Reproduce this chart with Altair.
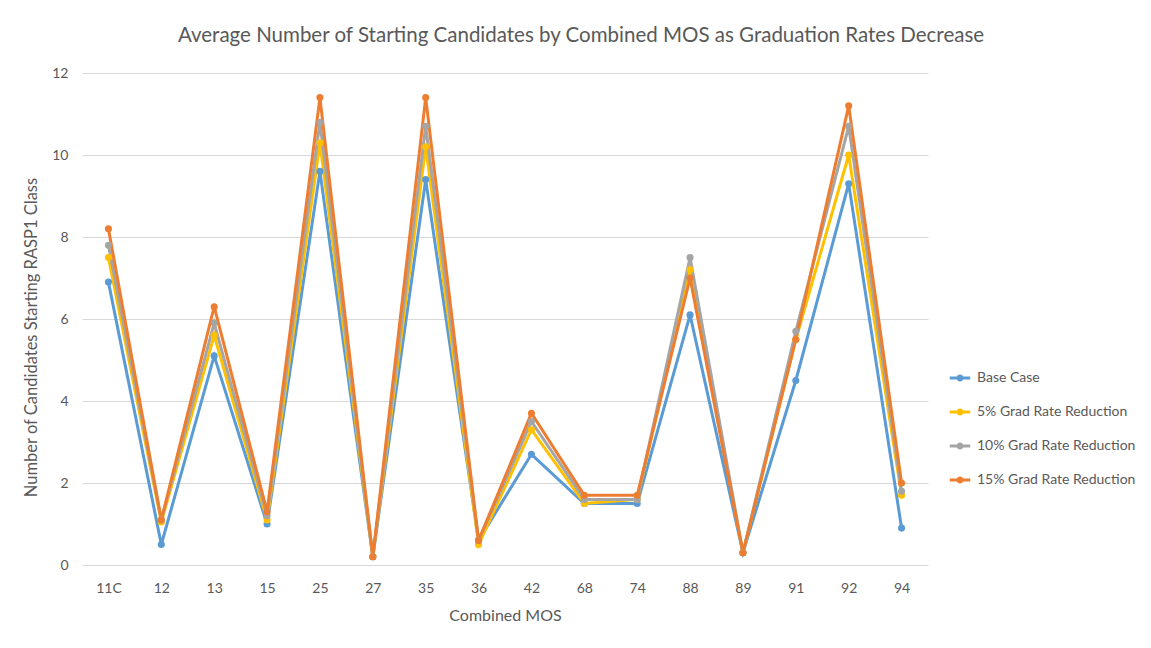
import altair as alt
import pandas as pd

categories = ["11C", "12", "13", "15", "25", "27", "35", "36", "42", "68", "74", "88", "89", "91", "92", "94"]
series_names = ["Base Case", "5% Grad Rate Reduction", "10% Grad Rate Reduction", "15% Grad Rate Reduction"]
base_case = [6.9, 0.5, 5.1, 1.0, 9.6, 0.2, 9.4, 0.6, 2.7, 1.5, 1.5, 6.1, 0.3, 4.5, 9.3, 0.9]
red_5 = [7.5, 1.05, 5.6, 1.1, 10.3, 0.2, 10.2, 0.5, 3.3, 1.5, 1.6, 7.2, 0.3, 5.5, 10.0, 1.7]
red_10 = [7.8, 1.1, 5.9, 1.2, 10.8, 0.2, 10.7, 0.6, 3.5, 1.6, 1.6, 7.5, 0.3, 5.7, 10.7, 1.8]
red_15 = [8.2, 1.1, 6.3, 1.3, 11.4, 0.2, 11.4, 0.6, 3.7, 1.7, 1.7, 7.0, 0.3, 5.5, 11.2, 2.0]
colors = ["#5B9BD5", "#FFC000", "#A5A5A5", "#ED7D31"]

rows = []
for si, (name, vals) in enumerate(zip(series_names, [base_case, red_5, red_10, red_15])):
    for c, v in zip(categories, vals):
        rows.append({"MOS": c, "Series": name, "Value": v, "order": si})
df = pd.DataFrame(rows)

FONT = "Lato"
GRAY = "#595959"

x = alt.X("MOS:N", sort=categories, title="Combined MOS",
          scale=alt.Scale(type="point", padding=0.5),
          axis=alt.Axis(labelAngle=0, ticks=False, domain=False, grid=False,
                        labelPadding=16, titlePadding=12, labelFontSize=14,
                        titleFontSize=16, labelColor=GRAY, titleColor=GRAY,
                        labelFont=FONT, titleFont=FONT, titleFontWeight="normal"))
y = alt.Y("Value:Q", title="Number of Candidates Starting RASP1 Class",
          scale=alt.Scale(domain=[0, 12]),
          axis=alt.Axis(values=[0, 2, 4, 6, 8, 10, 12], ticks=False, domain=False,
                        gridColor="#D9D9D9", gridWidth=1.2, labelPadding=14,
                        titlePadding=12, titleY=264, labelFontSize=14, titleFontSize=16.5,
                        labelColor=GRAY, titleColor=GRAY, labelFont=FONT,
                        titleFont=FONT, titleFontWeight="normal"))
color = alt.Color("Series:N", sort=series_names,
                  scale=alt.Scale(domain=series_names, range=colors),
                  legend=alt.Legend(title=None, orient="none", legendX=866, legendY=293,
                                    labelFont=FONT, labelFontSize=14, labelColor=GRAY,
                                    symbolType="M-1,0L1,0M-0.2,0a0.2,0.2 0 1,0 0.4,0a0.2,0.2 0 1,0 -0.4,0",
                                    symbolSize=420, symbolStrokeWidth=3, symbolFillColor="transparent",
                                    rowPadding=13, labelOffset=5))

lines = alt.Chart(df).mark_line(strokeWidth=3).encode(
    x=x, y=y, color=color, order=alt.Order("order:Q"))
points = alt.Chart(df).mark_circle(size=50, opacity=1).encode(
    x=x, y=y, color=alt.Color("Series:N", sort=series_names,
                               scale=alt.Scale(domain=series_names, range=colors), legend=None),
    order=alt.Order("order:Q"))

chart = alt.layer(lines, points).properties(
    width=846, height=492,
    title=alt.TitleParams("Average Number of Starting Candidates by Combined MOS as Graduation Rates Decrease",
                          font=FONT, fontSize=20.5, fontWeight="normal", color=GRAY,
                          anchor="middle", dx=76, offset=20),
    autosize=alt.AutoSizeParams(type="none"),
    padding={"left": 74, "top": 65, "right": 215, "bottom": 75},
).configure_view(stroke=None)

chart.save("out.html", embed_options={"renderer": "svg", "actions": False})
